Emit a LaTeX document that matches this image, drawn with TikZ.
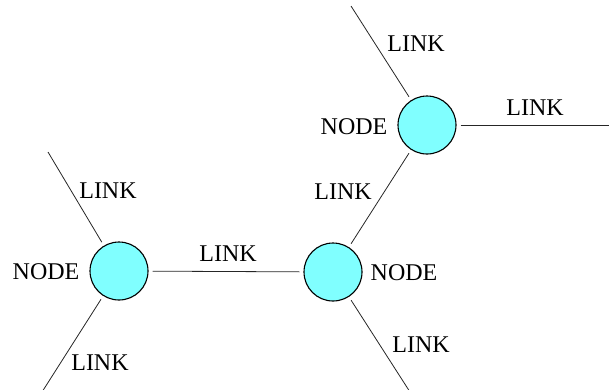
\documentclass[tikz,border=0pt]{standalone}
\usepackage{fontspec}
\setmainfont{Liberation Serif}
\definecolor{nodefill}{RGB}{128,255,255}
\tikzset{
  netnode/.style={circle, draw=black, line width=1.1pt, fill=nodefill,
                  minimum size=58pt, inner sep=0pt},
  link/.style={draw=black!85, line width=0.8pt, shorten <=4pt, shorten >=4pt},
  lbl/.style={font=\fontsize{24}{28}\selectfont, inner sep=0pt}
}
\begin{document}
\begin{tikzpicture}[x=1pt, y=-1pt]
  \useasboundingbox (0,0) rectangle (609,389);

  % network nodes
  \node[netnode] (A) at (119,271) {};
  \node[netnode] (B) at (333,272) {};
  \node[netnode] (C) at (427,125) {};

  % free ends of the outer links
  \coordinate (a1) at (48,152);
  \coordinate (a2) at (42,392);
  \coordinate (b1) at (410,392);
  \coordinate (c1) at (351,6);
  \coordinate (c2) at (612,125);

  % links
  \draw[link, shorten <=0pt] (a1) -- (A);
  \draw[link, shorten <=0pt] (a2) -- (A);
  \draw[link] (A) -- (B);
  \draw[link] (B) -- (C);
  \draw[link, shorten >=0pt] (B) -- (b1);
  \draw[link, shorten <=0pt] (c1) -- (C);
  \draw[link, shorten >=0pt] (C) -- (c2);

  % labels
  \node[lbl] (tA) at (46,272) {NODE};
  \node[lbl] (tB) at (404,273) {NODE};
  \node[lbl] (tC) at (354,127) {NODE};
  \node[lbl] (la1) at (108,191) {LINK};
  \node[lbl] (la2) at (100,363) {LINK};
  \node[lbl] (lab) at (228,254) {LINK};
  \node[lbl] (lb1) at (421,345) {LINK};
  \node[lbl] (lbc) at (343,192) {LINK};
  \node[lbl] (lc1) at (416,44) {LINK};
  \node[lbl] (lc2) at (535,108) {LINK};
\end{tikzpicture}
\end{document}
